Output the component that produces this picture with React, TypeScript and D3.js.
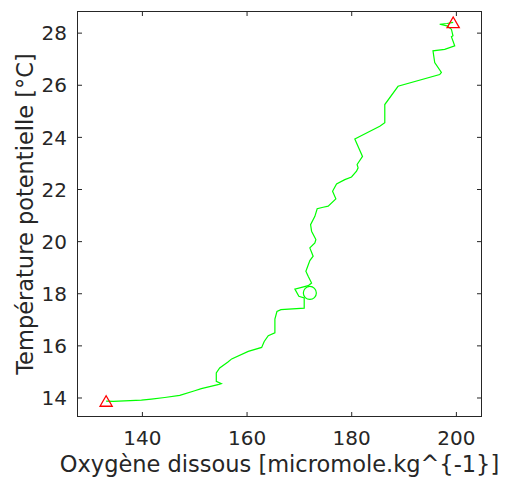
import React from "react";
import * as d3 from "d3";

const oxygen = [133.07, 134.41, 139.81, 141.72, 144.27, 147.14, 150.0, 151.26, 154.45, 155.08, 154.12, 154.12, 154.77, 156.35, 157.06, 160.23, 162.79, 163.28, 164.05, 165.32, 165.32, 165.71, 166.47, 170.92, 170.92, 169.9, 169.14, 171.68, 172.33, 171.68, 171.24, 172.0, 172.63, 172.0, 172.96, 173.15, 172.33, 172.14, 172.96, 173.4, 174.54, 175.5, 176.97, 176.34, 177.1, 178.68, 179.96, 180.92, 181.22, 181.03, 182.06, 180.59, 185.36, 186.32, 186.32, 188.85, 196.81, 197.14, 195.86, 195.53, 197.77, 199.68, 199.35, 199.05, 199.35, 199.05, 198.21, 196.81, 198.21, 199.39];
const temperature = [13.88, 13.87, 13.92, 13.96, 14.02, 14.1, 14.28, 14.36, 14.51, 14.55, 14.64, 14.96, 15.15, 15.38, 15.5, 15.79, 15.94, 16.17, 16.39, 16.5, 17.03, 17.32, 17.39, 17.45, 17.84, 17.9, 18.18, 18.31, 18.41, 18.67, 18.86, 19.27, 19.44, 19.76, 19.95, 20.08, 20.4, 20.65, 20.97, 21.26, 21.32, 21.36, 21.64, 21.93, 22.21, 22.38, 22.48, 22.7, 22.83, 22.96, 23.27, 23.94, 24.43, 24.56, 25.26, 25.96, 26.41, 26.49, 26.87, 27.32, 27.38, 27.51, 27.7, 27.86, 27.9, 28.15, 28.28, 28.34, 28.37, 28.41];
const circlePoint = [172.0, 18.03];
const xTicks = [140, 160, 180, 200];
const yTicks = [14, 16, 18, 20, 22, 24, 26, 28];
const xDomain = [127.6, 204.8];
const yDomain = [13.29, 28.83];
const xLabel = "Oxygène dissous [micromole.kg^{-1}]";
const yLabel = "Température potentielle [°C]";

export default function App() {
  const W = 507, H = 481;
  const L = 77.5, R = 481.5, T = 11.5, B = 416.5;
  const x = d3.scaleLinear().domain(xDomain).range([L, R]);
  const y = d3.scaleLinear().domain(yDomain).range([B, T]);
  const pts: [number, number][] = oxygen.map((o, i) => [o, temperature[i]]);
  const line = d3.line<[number, number]>().x(d => x(d[0])).y(d => y(d[1]));
  const tri = d3.symbol().type(d3.symbolTriangle).size(64)();
  const first = pts[0];
  const last = pts[pts.length - 1];
  const axisColor = "#262626";
  const font = "DejaVu Sans";
  const tk = 4.5;
  return (
    <svg width={W} height={H} style={{ position: "absolute", left: 0, top: 0, background: "#fff" }}>
      <rect x={0} y={0} width={W} height={H} fill="#fff" />
      <path d={line(pts) || ""} fill="none" stroke="#00ff00" strokeWidth={1.2} />
      <circle cx={x(circlePoint[0])} cy={y(circlePoint[1])} r={6.5} fill="none" stroke="#00ff00" strokeWidth={1.2} />
      <path d={tri || ""} transform={`translate(${x(first[0])},${y(first[1]) + 1.6})`} fill="none" stroke="#ff0000" strokeWidth={1.3} />
      <path d={tri || ""} transform={`translate(${x(last[0])},${y(last[1]) + 1.6})`} fill="none" stroke="#ff0000" strokeWidth={1.3} />
      <rect x={L} y={T} width={R - L} height={B - T} fill="none" stroke={axisColor} strokeWidth={1} />
      {xTicks.map(t => (
        <g key={"x" + t}>
          <line x1={x(t)} x2={x(t)} y1={B} y2={B - tk} stroke={axisColor} />
          <line x1={x(t)} x2={x(t)} y1={T} y2={T + tk} stroke={axisColor} />
          <text x={x(t)} y={445} textAnchor="middle" fontFamily={font} fontSize={20} fill={axisColor}>{t}</text>
        </g>
      ))}
      {yTicks.map(t => (
        <g key={"y" + t}>
          <line x1={L} x2={L + tk} y1={y(t)} y2={y(t)} stroke={axisColor} />
          <line x1={R} x2={R - tk} y1={y(t)} y2={y(t)} stroke={axisColor} />
          <text x={67} y={y(t) + 7.2} textAnchor="end" fontFamily={font} fontSize={20} fill={axisColor}>{t}</text>
        </g>
      ))}
      <text x={(L + R) / 2} y={472} textAnchor="middle" fontFamily={font} fontSize={22.5} fill={axisColor}>{xLabel}</text>
      <text transform={`translate(33,${(T + B) / 2}) rotate(-90)`} textAnchor="middle" fontFamily={font} fontSize={22.5} fill={axisColor}>{yLabel}</text>
    </svg>
  );
}
